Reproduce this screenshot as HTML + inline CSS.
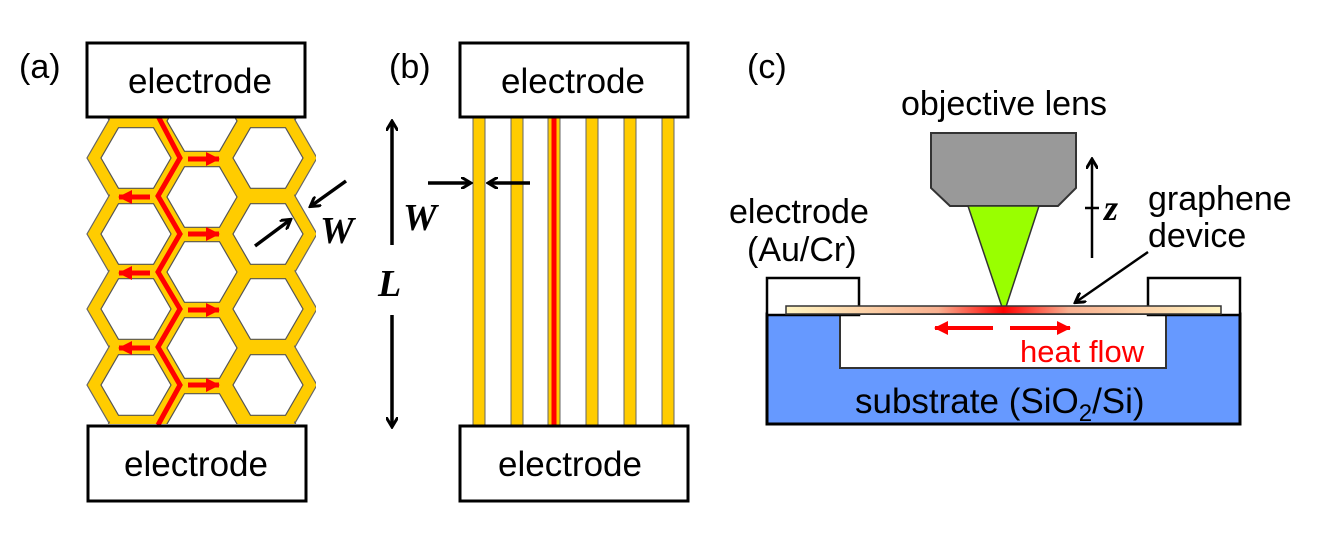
<!DOCTYPE html>
<html><head><meta charset="utf-8"><style>
html,body{margin:0;padding:0;background:#fff}
.s{font-family:"Liberation Sans",sans-serif}
.m{font-family:"Liberation Serif",serif;font-weight:bold;font-style:italic}
</style></head><body>
<svg width="1332" height="540" viewBox="0 0 1332 540" xmlns="http://www.w3.org/2000/svg">
<defs>
<clipPath id="ca"><rect x="80" y="118" width="250" height="306"/></clipPath>
<marker id="ah" markerWidth="12" markerHeight="12" refX="9" refY="6" orient="auto" markerUnits="userSpaceOnUse"><path d="M0,0 L10,6 L0,12" fill="none" stroke="#000" stroke-width="3"/></marker>
<marker id="ahr" markerWidth="14" markerHeight="14" refX="13" refY="7" orient="auto" markerUnits="userSpaceOnUse"><path d="M0,0 L14,7 L0,14 Z" fill="#f00"/></marker>
<linearGradient id="gg" x1="786" x2="1221" gradientUnits="userSpaceOnUse">
<stop offset="0" stop-color="#fff4c0"/><stop offset="0.35" stop-color="#f8b090"/><stop offset="0.5" stop-color="#ff0000"/><stop offset="0.65" stop-color="#f8b090"/><stop offset="1" stop-color="#fff4c0"/></linearGradient>
</defs>
<g class="s">
<text x="19" y="78" font-size="34">(a)</text>
<text x="389" y="78" font-size="34">(b)</text>
<text x="747" y="78" font-size="34">(c)</text>
</g>

<g clip-path="url(#ca)" id="hc"></g>
<script>
(function(){
var g=document.getElementById('hc'),ns='http://www.w3.org/2000/svg';
function hex(cx,cy,R){var p=[];for(var i=0;i<6;i++){var a=Math.PI/3*i;p.push((cx+R*Math.cos(a)).toFixed(1)+','+(cy+R*Math.sin(a)).toFixed(1));}return p.join(' ');}
var cells=[];
[136,268].forEach(function(x){[82,158,234,309,385,461].forEach(function(y){cells.push([x,y]);});});
[202].forEach(function(x){[121,197,272,348,424].forEach(function(y){cells.push([x,y]);});});
function add(pts,fill,stroke,sw){var e=document.createElementNS(ns,'polygon');e.setAttribute('points',pts);e.setAttribute('fill',fill);if(stroke){e.setAttribute('stroke',stroke);e.setAttribute('stroke-width',sw);}g.appendChild(e);}
cells.forEach(function(c){add(hex(c[0],c[1],49),'#ffcc00','#666',1.2);});
cells.forEach(function(c){add(hex(c[0],c[1],47.5),'#ffcc00');});
cells.forEach(function(c){add(hex(c[0],c[1],35),'#fff','#555',1.2);});
})();
</script>
<rect x="316" y="118" width="20" height="306" fill="#fff"/>
<polyline points="158,116 180,158 158,196 180,234 158,272 180,309 158,347 180,385 158,425" fill="none" stroke="#f00" stroke-width="5"/>
<g stroke="#f00" stroke-width="5" marker-end="url(#ahr)">
<line x1="188" y1="159" x2="219" y2="159"/><line x1="188" y1="234" x2="219" y2="234"/>
<line x1="188" y1="310" x2="219" y2="310"/><line x1="188" y1="385" x2="219" y2="385"/>
<line x1="150" y1="197" x2="119" y2="197"/><line x1="150" y1="273" x2="119" y2="273"/>
<line x1="150" y1="348" x2="119" y2="348"/>
</g>
<line x1="346" y1="181" x2="311" y2="206" stroke="#000" stroke-width="3.5" marker-end="url(#ah)"/>
<line x1="255" y1="246" x2="290" y2="220" stroke="#000" stroke-width="3.5" marker-end="url(#ah)"/>
<text class="m" x="320" y="243" font-size="38">W</text>
<rect x="87" y="43" width="218" height="74" fill="#fff" stroke="#000" stroke-width="3"/>
<text class="s" x="200" y="93" font-size="35" text-anchor="middle">electrode</text>
<rect x="88" y="426" width="218" height="75" fill="#fff" stroke="#000" stroke-width="3"/>
<text class="s" x="196" y="476" font-size="35" text-anchor="middle">electrode</text>

<g fill="#ffcc00" stroke="#666" stroke-width="1">
<rect x="473" y="117" width="12" height="308"/><rect x="511" y="117" width="12" height="308"/>
<rect x="548" y="117" width="12" height="308"/><rect x="586" y="117" width="12" height="308"/>
<rect x="624" y="117" width="12" height="308"/><rect x="662" y="117" width="12" height="308"/>
</g>
<line x1="554" y1="117" x2="554" y2="425" stroke="#f00" stroke-width="5"/>
<rect x="460" y="43" width="228" height="74" fill="#fff" stroke="#000" stroke-width="3"/>
<text class="s" x="573" y="93" font-size="35" text-anchor="middle">electrode</text>
<rect x="460" y="426" width="228" height="75" fill="#fff" stroke="#000" stroke-width="3"/>
<text class="s" x="570" y="476" font-size="35" text-anchor="middle">electrode</text>
<line x1="392" y1="245" x2="392" y2="122" stroke="#000" stroke-width="3.5" marker-end="url(#ah)"/>
<line x1="392" y1="315" x2="392" y2="426" stroke="#000" stroke-width="3.5" marker-end="url(#ah)"/>
<text class="m" x="378" y="296" font-size="38">L</text>
<line x1="428" y1="183" x2="470" y2="183" stroke="#000" stroke-width="3.5" marker-end="url(#ah)"/>
<line x1="530" y1="183" x2="489" y2="183" stroke="#000" stroke-width="3.5" marker-end="url(#ah)"/>
<text class="m" x="403" y="230" font-size="38">W</text>

<text class="s" x="1004" y="115" font-size="34" text-anchor="middle">objective lens</text>
<polygon points="931,133 1076,133 1076,188 1058,206 950,206 931,188" fill="#999" stroke="#333" stroke-width="2"/>
<polygon points="968,206 1039,206 1004,313" fill="#99ff00" stroke="#333" stroke-width="1.5"/>
<line x1="1092" y1="258" x2="1092" y2="160" stroke="#000" stroke-width="2.5" marker-end="url(#ah)"/>
<line x1="1085" y1="208" x2="1099" y2="208" stroke="#000" stroke-width="2.5"/>
<text class="m" x="1104" y="220" font-size="36">z</text>
<text class="s" x="1148" y="210" font-size="34">graphene</text>
<text class="s" x="1148" y="247" font-size="34">device</text>
<text class="s" x="729" y="223" font-size="34">electrode</text>
<text class="s" x="747" y="261" font-size="34">(Au/Cr)</text>
<rect x="767" y="314" width="473" height="110" fill="#6699ff" stroke="#000" stroke-width="3"/>
<rect x="840" y="314" width="326" height="54" fill="#fff" stroke="#333" stroke-width="2"/>
<rect x="767" y="278" width="92" height="37" fill="#fff" stroke="#000" stroke-width="2.5"/>
<rect x="1148" y="278" width="92" height="37" fill="#fff" stroke="#000" stroke-width="2.5"/>
<rect x="786" y="306" width="435" height="8" fill="url(#gg)" stroke="#333" stroke-width="1.5"/>
<line x1="1148" y1="252" x2="1076" y2="302" stroke="#000" stroke-width="2.5" marker-end="url(#ah)"/>
<line x1="993" y1="328" x2="935" y2="328" stroke="#f00" stroke-width="4" marker-end="url(#ahr)"/>
<line x1="1010" y1="328" x2="1070" y2="328" stroke="#f00" stroke-width="4" marker-end="url(#ahr)"/>
<text class="s" x="1020" y="362" font-size="31" fill="#f00">heat flow</text>
<text class="s" x="855" y="413" font-size="35">substrate (SiO<tspan font-size="24" dy="8">2</tspan><tspan dy="-8">/Si)</tspan></text>
</svg>
</body></html>
